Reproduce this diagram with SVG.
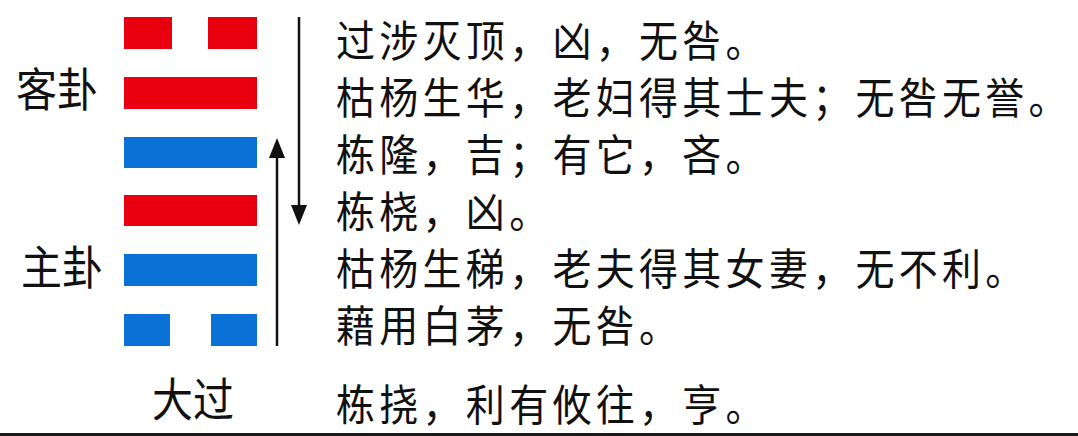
<svg xmlns="http://www.w3.org/2000/svg" width="1078" height="436" viewBox="0 0 1078 436">
<defs>
<style>
.yang-r{fill:#e8000f}
.yin-b{fill:#0a72d6}
.lbl{font-family:"Noto Sans CJK SC","Noto Sans CJK TC",sans-serif;font-size:41px;fill:#111}
.txt{font-family:"Noto Sans CJK SC","Noto Sans CJK TC",sans-serif;font-size:39px;fill:#111;letter-spacing:4.3px}
.conn{stroke:#111;stroke-width:2.5;fill:none}
</style>
<marker id="ah" viewBox="0 0 20 16" refX="10" refY="8" markerWidth="20" markerHeight="16" markerUnits="userSpaceOnUse" orient="auto">
<path d="M0,0 L20,8 L0,16 z" fill="#111"/>
</marker>
</defs>
<rect x="0" y="0" width="1078" height="436" fill="#ffffff"/>

<g id="line6">
<rect class="yang-r" x="124" y="17" width="48" height="32"/>
<rect class="yang-r" x="208" y="17" width="49" height="32"/>
</g>
<g id="line5"><rect class="yang-r" x="124" y="77" width="133" height="32"/></g>
<g id="line4"><rect class="yin-b" x="124" y="137" width="133" height="31"/></g>
<g id="line3"><rect class="yang-r" x="124" y="195" width="133" height="31"/></g>
<g id="line2"><rect class="yin-b" x="124" y="254" width="133" height="32"/></g>
<g id="line1">
<rect class="yin-b" x="124" y="314" width="46" height="32"/>
<rect class="yin-b" x="211" y="314" width="46" height="32"/>
</g>

<g id="label-kegua"><text class="lbl" transform="matrix(1,0,0,1.12,16,106)">客卦</text></g>
<g id="label-zhugua"><text class="lbl" transform="matrix(1,0,0,1.12,21,284)">主卦</text></g>
<g id="label-daguo"><text class="lbl" transform="matrix(1,0,0,1.12,152,416)">大过</text></g>

<g id="connectors">
<line class="conn" x1="299" y1="17" x2="299" y2="215" marker-end="url(#ah)"/>
<line class="conn" x1="277" y1="346" x2="277" y2="148" marker-end="url(#ah)"/>
</g>

<g id="text-6"><text class="txt" transform="matrix(1,0,0,1.1,336,57)">过涉灭顶，凶，无咎。</text></g>
<g id="text-5"><text class="txt" transform="matrix(1,0,0,1.1,336,114)">枯杨生华，老妇得其士夫；无咎无誉。</text></g>
<g id="text-4"><text class="txt" transform="matrix(1,0,0,1.1,336,171)">栋隆，吉；有它，吝。</text></g>
<g id="text-3"><text class="txt" transform="matrix(1,0,0,1.1,336,228)">栋桡，凶。</text></g>
<g id="text-2"><text class="txt" transform="matrix(1,0,0,1.1,336,285)">枯杨生稊，老夫得其女妻，无不利。</text></g>
<g id="text-1"><text class="txt" transform="matrix(1,0,0,1.1,336,342)">藉用白茅，无咎。</text></g>
<g id="text-judgement"><text class="txt" transform="matrix(1,0,0,1.1,336,421)">栋挠，利有攸往，亨。</text></g>

<rect x="0" y="433" width="1078" height="3" fill="#1a1a1a"/>
</svg>
